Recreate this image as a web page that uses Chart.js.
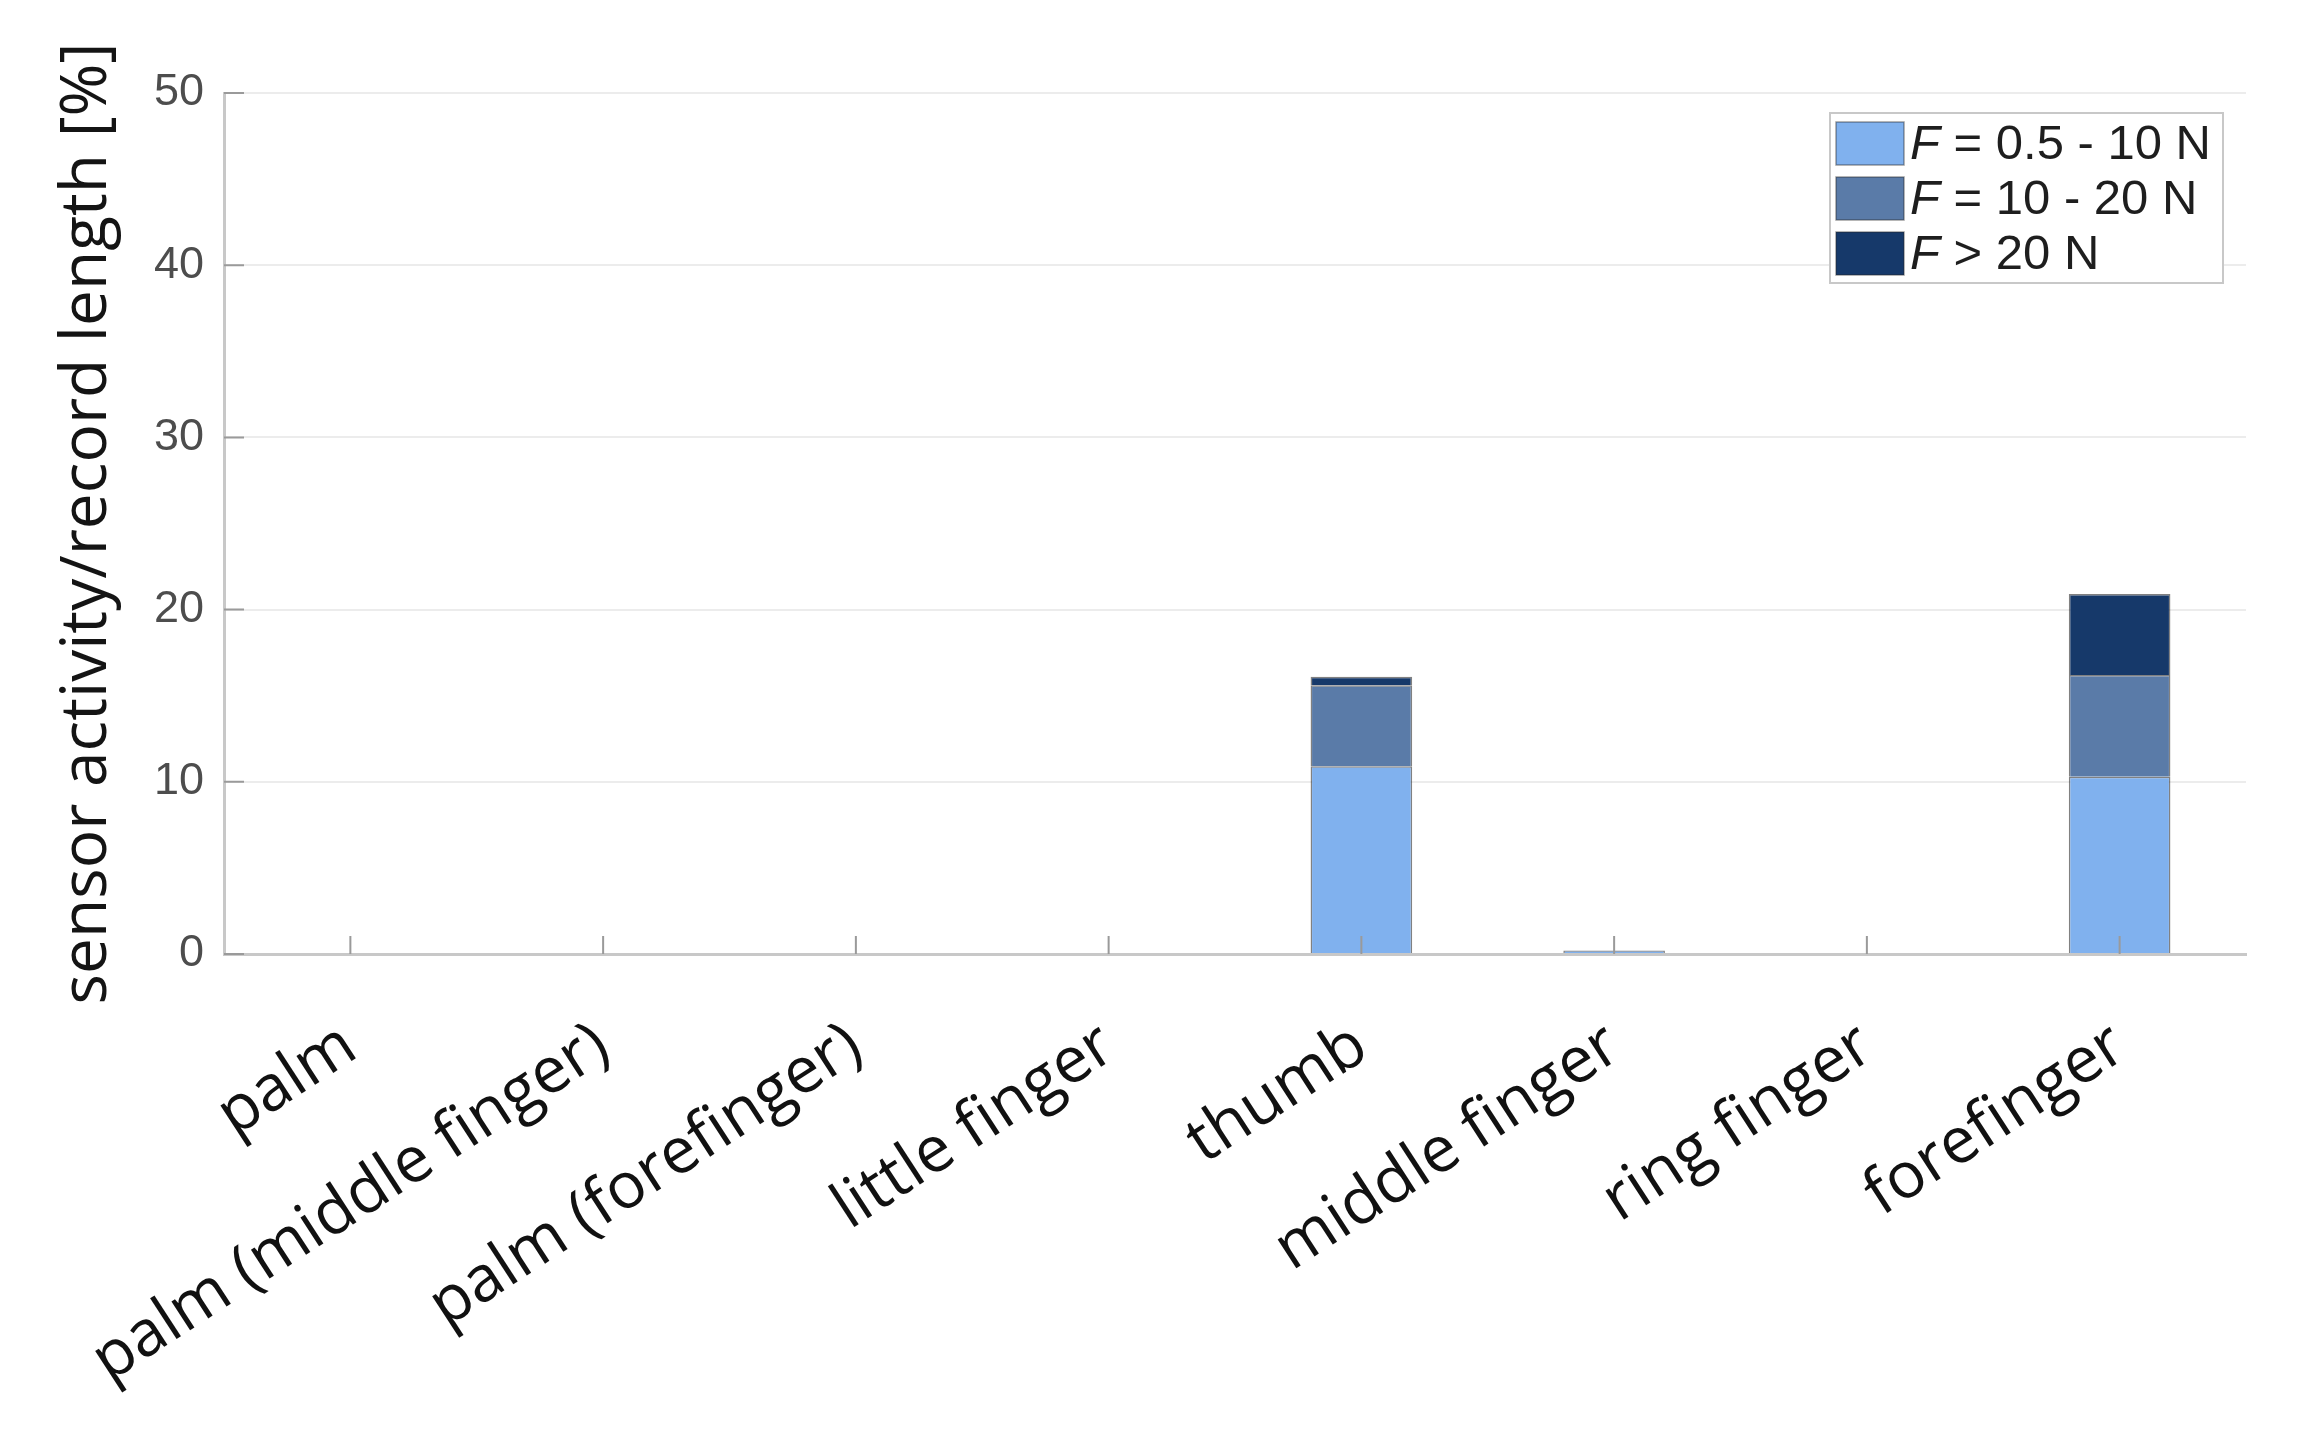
<!DOCTYPE html>
<html>
<head>
<meta charset="utf-8">
<title>sensor activity</title>
<script src="https://cdn.jsdelivr.net/npm/chart.js@4.4.1/dist/chart.umd.min.js"></script>
<style>
    html, body { margin: 0; padding: 0; background: #fff; }
</style>
</head>
<body>
<canvas id="sensorChart" width="2308" height="1438"></canvas>
<script>
const categories = ['palm', 'palm (middle finger)', 'palm (forefinger)', 'little finger', 'thumb', 'middle finger', 'ring finger', 'forefinger'];
const forceLow = [0, 0, 0, 0, 10.9, 0.2, 0, 10.3];
const forceMid = [0, 0, 0, 0, 4.7, 0, 0, 5.9];
const forceHigh = [0, 0, 0, 0, 0.5, 0, 0, 4.7];
const seriesLabels = ['F = 0.5 - 10 N', 'F = 10 - 20 N', 'F > 20 N'];
const seriesColors = ['#80b1ee', '#5a7ba8', '#16396a'];
const yMin = 0, yMax = 50, yStep = 10;
const yTitle = 'sensor activity/record length [%]';

// ticks drawn inwards, like in MATLAB
const innerTicks = {
    id: 'innerTicks',
    afterDatasetsDraw(chart) {
        const { ctx, chartArea, scales } = chart;
        ctx.save();
        ctx.strokeStyle = '#9a9a9a';
        ctx.lineWidth = 2;
        ctx.beginPath();
        scales.y.ticks.forEach((t, i) => {
            const y = scales.y.getPixelForTick(i);
            ctx.moveTo(chartArea.left, y);
            ctx.lineTo(chartArea.left + 20, y);
        });
        scales.x.ticks.forEach((t, i) => {
            const x = scales.x.getPixelForTick(i);
            ctx.moveTo(x, chartArea.bottom);
            ctx.lineTo(x, chartArea.bottom - 18);
        });
        ctx.stroke();
        ctx.restore();
    }
};

// legend box with italic F
const legendBox = {
    id: 'legendBox',
    afterDraw(chart) {
        const { ctx, chartArea } = chart;
        const boxW = 393, boxH = 170;
        const x0 = chartArea.right - 23 - boxW;
        const y0 = chartArea.top + 20;
        ctx.save();
        ctx.fillStyle = '#fff';
        ctx.strokeStyle = '#c8c8c8';
        ctx.lineWidth = 2;
        ctx.fillRect(x0, y0, boxW, boxH);
        ctx.strokeRect(x0, y0, boxW, boxH);
        chart.data.datasets.forEach((ds, i) => {
            const y = y0 + 9 + i * 55;
            ctx.fillStyle = ds.backgroundColor;
            ctx.fillRect(x0 + 6, y, 68, 43);
            ctx.strokeStyle = 'rgba(40,40,40,0.45)';
            ctx.lineWidth = 1.5;
            ctx.strokeRect(x0 + 6, y, 68, 43);

            ctx.fillStyle = '#1e1e1e';
            ctx.textBaseline = 'middle';
            ctx.font = 'italic 49px "Liberation Sans"';
            ctx.fillText(ds.label[0], x0 + 80, y + 23);
            const w = ctx.measureText(ds.label[0]).width;
            ctx.font = '49px "Liberation Sans"';
            ctx.fillText(ds.label.slice(1), x0 + 80 + w, y + 23);
        });
        ctx.restore();
    }
};

const ctx = document.getElementById('sensorChart').getContext('2d');
new Chart(ctx, {
    type: 'bar',
    data: {
        labels: categories,
        datasets: [forceLow, forceMid, forceHigh].map((values, i) => ({
            label: seriesLabels[i],
            data: values,
            backgroundColor: seriesColors[i],
            borderColor: 'rgba(45,45,45,0.6)',
            borderWidth: 1.5,
            categoryPercentage: 1,
            barPercentage: 0.402
        }))
    },
    options: {
        responsive: false,
        animation: false,
        devicePixelRatio: 1,
        layout: { padding: { left: 0, top: 93, right: 62, bottom: 0 } },
        plugins: {
            legend: { display: false },
            tooltip: { enabled: false }
        },
        scales: {
            x: {
                stacked: true,
                offset: true,
                grid: { display: false, drawTicks: false },
                border: { color: '#c8c8c8', width: 3 },
                ticks: {
                    autoSkip: false,
                    maxRotation: 33,
                    minRotation: 33,
                    padding: 54,
                    color: '#111',
                    font: { family: '"Open Sans"', size: 64 }
                },
                afterFit: scale => { scale.height = 484; }
            },
            y: {
                stacked: true,
                min: yMin,
                max: yMax,
                grid: { color: '#ececec', lineWidth: 2, drawTicks: false },
                border: { color: '#c8c8c8', width: 3 },
                ticks: {
                    stepSize: yStep,
                    padding: 20,
                    color: '#4d4d4d',
                    font: { family: '"Liberation Sans"', size: 45 }
                },
                title: {
                    display: true,
                    text: yTitle,
                    color: '#141414',
                    font: { family: '"Open Sans"', size: 64 },
                    padding: { top: 49, bottom: 0 }
                },
                afterFit: scale => { scale.width = 224; }
            }
        }
    },
    plugins: [innerTicks, legendBox]
});
</script>
</body>
</html>
